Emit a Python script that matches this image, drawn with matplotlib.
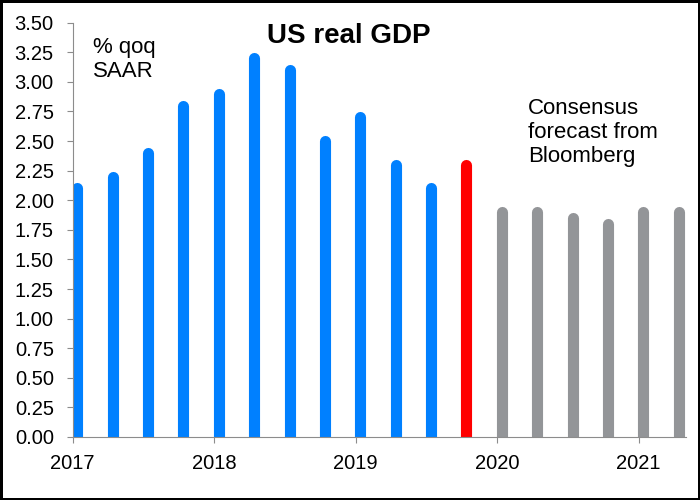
import numpy as np
import matplotlib
matplotlib.use("Agg")
import matplotlib.pyplot as plt
from matplotlib.patches import Rectangle
from matplotlib.ticker import FormatStrFormatter, MultipleLocator

plt.rcParams["font.family"] = "Liberation Sans"

# =========================
# DATA
# =========================

quarters = ["2017Q1", "2017Q2", "2017Q3", "2017Q4",
            "2018Q1", "2018Q2", "2018Q3", "2018Q4",
            "2019Q1", "2019Q2", "2019Q3", "2019Q4",
            "2020Q1", "2020Q2", "2020Q3", "2020Q4",
            "2021Q1", "2021Q2"]

actual = [2.1, 2.2, 2.4, 2.8, 2.9, 3.2, 3.1, 2.5, 2.7, 2.3, 2.1]
latest = [2.3]
forecast = [1.9, 1.9, 1.85, 1.8, 1.9, 1.9]

years = [2017, 2018, 2019, 2020, 2021]

# =========================
# POSITIONS
# =========================

# decimal year of each quarter, bar sits a little after the quarter start
x_all = np.array([int(q[:4]) + (int(q[5]) - 1) / 4 for q in quarters]) + 0.033
n_a, n_l = len(actual), len(latest)
x_actual = x_all[:n_a]
x_latest = x_all[n_a:n_a + n_l]
x_forecast = x_all[n_a + n_l:]

colors = {
    "actual": "#0080FF",
    "latest": "#FF0000",
    "forecast": "#939598",
}

# =========================
# VISUALIZATION
# =========================

fig = plt.figure(figsize=(7, 5), dpi=100)
ax = fig.add_axes([0.1036, 0.126, 0.876, 0.8286])

bar_lw = 8.0  # points, round caps give the rounded tops
for xs, vals, key in [(x_actual, actual, "actual"),
                      (x_latest, latest, "latest"),
                      (x_forecast, forecast, "forecast")]:
    lc = ax.vlines(xs, 0, vals, colors=colors[key], linewidth=bar_lw)
    lc.set_capstyle("round")

ax.set_xlim(2017.0, 2021.332)
ax.set_ylim(0, 3.5)

ax.set_xticks(years)
ax.set_xticklabels([str(y) for y in years])
ax.yaxis.set_major_locator(MultipleLocator(0.25))
ax.yaxis.set_major_formatter(FormatStrFormatter("%.2f"))

# Axis styling
for side in ["top", "right"]:
    ax.spines[side].set_visible(False)
for side in ["left", "bottom"]:
    ax.spines[side].set_color("#8C8C8C")
    ax.spines[side].set_linewidth(0.8)

ax.tick_params(axis="both", direction="out", length=4.5, width=0.8,
               color="#8C8C8C", labelsize=14.5, labelcolor="black")
ax.tick_params(axis="y", pad=9)
ax.tick_params(axis="x", pad=8)

# Titles and notes
fig.text(0.4986, 0.9134, "US real GDP", ha="center", va="baseline",
         fontsize=20, weight="bold")
fig.text(0.1324, 0.925, "% qoq\nSAAR", ha="left", va="top",
         fontsize=16, linespacing=1.18)
fig.text(0.7547, 0.805, "Consensus\nforecast from\nBloomberg", ha="left",
         va="top", fontsize=16, linespacing=1.2)

# Black frame round the whole picture
fig.patches.append(Rectangle((0, 0), 1, 1, transform=fig.transFigure,
                             fill=False, edgecolor="black", linewidth=3.6,
                             clip_on=False))

fig.savefig("out.png", dpi=100)
